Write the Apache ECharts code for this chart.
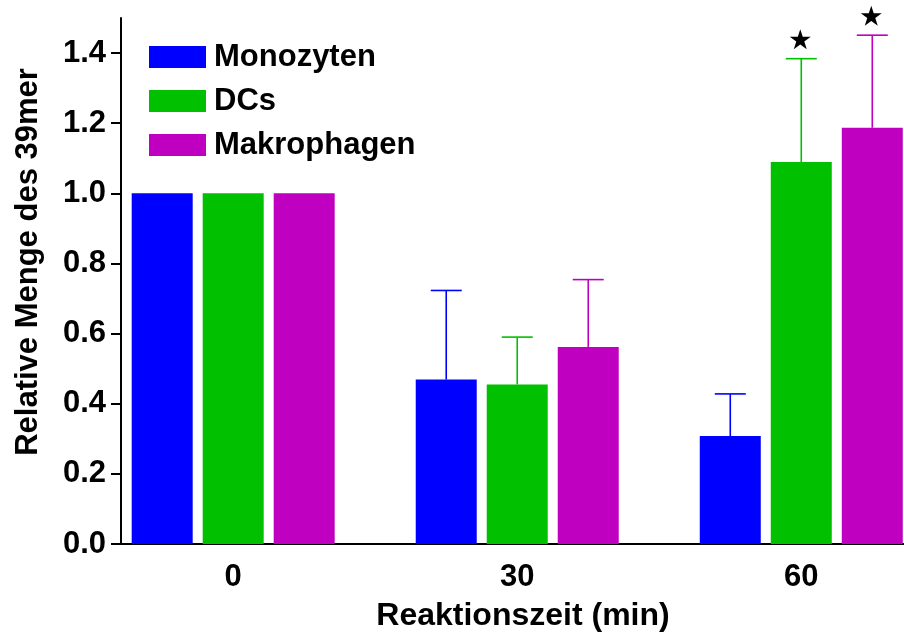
<!DOCTYPE html>
<html><head><meta charset="utf-8">
<script src="https://cdn.jsdelivr.net/npm/echarts@6/dist/echarts.min.js"></script>
<style>html,body{margin:0;padding:0;background:#fff}#c{width:904px;height:637px}</style>
</head><body><div id="c"></div>
<script>
// ---- data ----
const times = [0, 30, 60];
const timeTicks = [0, 30, 60];
const yTicks = [0, 0.2, 0.4, 0.6, 0.8, 1.0, 1.2, 1.4];
const seriesNames = ['Monozyten', 'DCs', 'Makrophagen'];
const monozytenMean = [1.0, 0.469, 0.308];
const monozytenErr = [0, 0.254, 0.120];
const dcsMean = [1.0, 0.455, 1.089];
const dcsErr = [0, 0.135, 0.295];
const makroMean = [1.0, 0.562, 1.187];
const makroErr = [0, 0.192, 0.264];
const monozytenSignificant = [false, false, false];
const dcsSignificant = [false, false, true];
const makroSignificant = [false, false, true];

// ---- style ----
const FONT = '"Liberation Sans", Arial, sans-serif';
const colors = ['#0000FF', '#00C000', '#C000C0'];
const offsets = [-71, 0, 71];
const BAR_W = 61;
const CAP_W = 31;
const STAR_PATH = 'path://M50,0 L61.8,36.2 L100,36.2 L69.1,58.8 L80.9,95.1 L50,72.6 L19.1,95.1 L30.9,58.8 L0,36.2 L38.2,36.2 Z';

const means = [monozytenMean, dcsMean, makroMean];
const errs = [monozytenErr, dcsErr, makroErr];
const sigs = [monozytenSignificant, dcsSignificant, makroSignificant];

function renderer(offset, color) {
  return function (params, api) {
    const x = api.value(0), m = api.value(1), e = api.value(2);
    const top = api.coord([x, m]);
    const base = api.coord([x, 0]);
    const cx = top[0] + offset;
    const children = [{
      type: 'rect',
      shape: { x: cx - BAR_W / 2, y: top[1], width: BAR_W, height: base[1] - top[1] },
      style: { fill: color }
    }];
    if (e > 0) {
      const cap = api.coord([x, m + e]);
      children.push({ type: 'line', shape: { x1: cx, y1: top[1], x2: cx, y2: cap[1] }, style: { stroke: color, lineWidth: 1.6 } });
      children.push({ type: 'line', shape: { x1: cx - CAP_W / 2, y1: cap[1], x2: cx + CAP_W / 2, y2: cap[1] }, style: { stroke: color, lineWidth: 1.6 } });
    }
    return { type: 'group', children: children };
  };
}

const series = [];
seriesNames.forEach(function (name, i) {
  series.push({
    name: name,
    type: 'custom',
    itemStyle: { color: colors[i] },
    renderItem: renderer(offsets[i], colors[i]),
    encode: { x: 0, y: 1 },
    data: times.map(function (t, j) { return [t, means[i][j], errs[i][j]]; }),
    z: 2
  });
  const stars = [];
  times.forEach(function (t, j) { if (sigs[i][j]) stars.push([t, means[i][j] + errs[i][j]]); });
  if (stars.length) {
    series.push({
      name: name + ' *',
      type: 'scatter',
      symbol: STAR_PATH,
      symbolSize: [21, 20],
      symbolOffset: [offsets[i] - 1, -19.5],
      itemStyle: { color: '#000', opacity: 1 },
      emphasis: { disabled: true },
      data: stars,
      z: 3
    });
  }
});

const chart = echarts.init(document.getElementById('c'), null, { renderer: 'canvas' });
chart.setOption({
  animation: false,
  backgroundColor: '#fff',
  grid: { left: 121, right: 0, top: 18, bottom: 91, containLabel: false },
  legend: {
    data: seriesNames,
    orient: 'vertical',
    left: 149,
    top: 41.5,
    padding: 0,
    itemWidth: 57,
    itemHeight: 22,
    itemGap: 13,
    icon: 'rect',
    selectedMode: false,
    textStyle: { fontSize: 31, fontWeight: 'bold', color: '#000', fontFamily: FONT, padding: [0, 0, 0, 3] }
  },
  xAxis: {
    type: 'value',
    min: -11.85,
    max: 70.85,
    name: 'Reaktionszeit (min)',
    nameLocation: 'middle',
    nameGap: 56,
    nameTextStyle: { fontSize: 32, fontWeight: 'bold', color: '#000', fontFamily: FONT, padding: [0, 0, 0, 21] },
    axisLine: { show: true, onZero: false, lineStyle: { color: '#000', width: 2 } },
    axisTick: { show: false },
    splitLine: { show: false },
    axisLabel: {
      customValues: timeTicks,
      formatter: function (v) { return String(Math.round(v)); },
      fontSize: 31, fontWeight: 'bold', color: '#000', fontFamily: FONT, margin: 18
    }
  },
  yAxis: {
    type: 'value',
    min: 0,
    max: 1.5,
    name: 'Relative Menge des 39mer',
    nameLocation: 'middle',
    nameGap: 77,
    nameTextStyle: { fontSize: 31, fontWeight: 'bold', color: '#000', fontFamily: FONT, padding: [0, 0, 0, 38] },
    axisLine: { show: true, onZero: false, lineStyle: { color: '#000', width: 2 } },
    axisTick: { show: true, customValues: yTicks, length: 10, lineStyle: { color: '#000', width: 2 } },
    splitLine: { show: false },
    axisLabel: {
      customValues: yTicks,
      formatter: function (v) { return v.toFixed(1); },
      fontSize: 31, fontWeight: 'bold', color: '#000', fontFamily: FONT, margin: 15
    }
  },
  series: series
});
</script>
</body></html>
